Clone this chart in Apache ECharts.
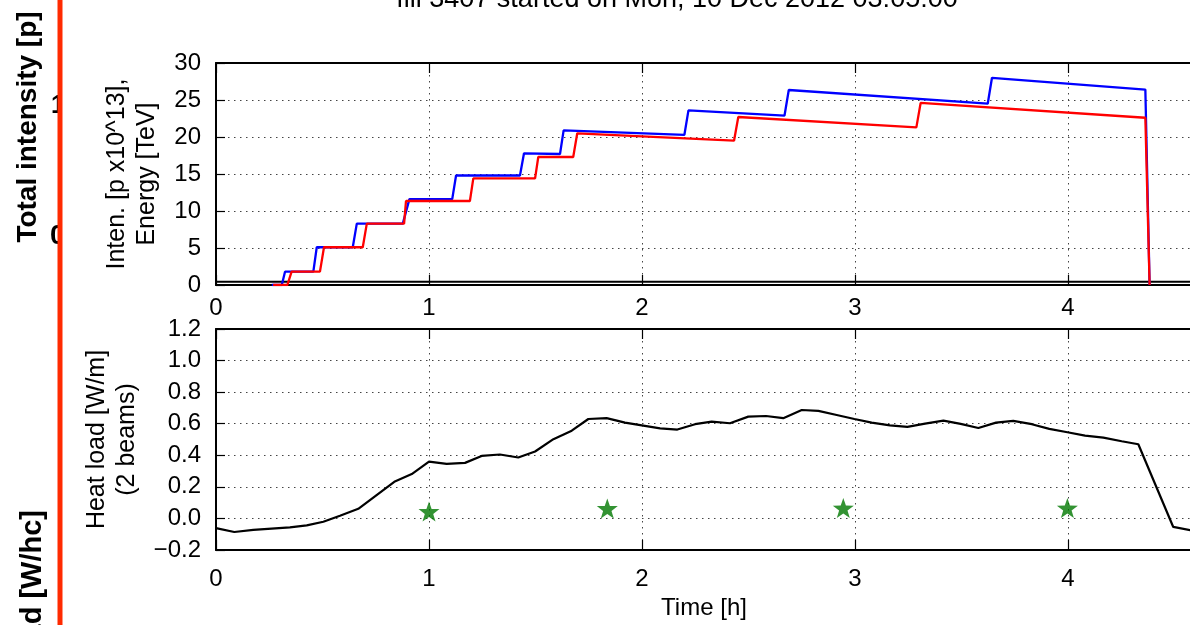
<!DOCTYPE html>
<html>
<head>
<meta charset="utf-8">
<script src="https://cdn.jsdelivr.net/npm/echarts@6/dist/echarts.min.js"></script>
<style>
html,body{margin:0;padding:0;background:#fff;}
#c{width:1190px;height:625px;}
</style>
</head>
<body>
<div id="c"></div>
<script>
// ---- data (hours, values) ----
const xTicks = [0, 1, 2, 3, 4];
const blueT = [0.262, 0.309, 0.324, 0.457, 0.473, 0.642, 0.661, 0.877, 0.908, 1.109, 1.127, 1.427, 1.446, 1.615, 1.632, 2.199, 2.218, 2.669, 2.689, 3.623, 3.643, 4.363, 4.383];
const blueV = [0, 0, 1.8, 1.8, 5.1, 5.1, 8.3, 8.3, 11.6, 11.6, 14.8, 14.8, 17.8, 17.7, 20.9, 20.3, 23.6, 22.9, 26.35, 24.5, 28.0, 26.4, 0];
const redT = [0.268, 0.335, 0.355, 0.488, 0.507, 0.689, 0.708, 0.883, 0.892, 1.192, 1.208, 1.498, 1.513, 1.677, 1.696, 2.432, 2.452, 3.288, 3.308, 4.363, 4.383];
const redV = [0, 0, 1.8, 1.8, 5.1, 5.1, 8.3, 8.3, 11.35, 11.35, 14.4, 14.4, 17.3, 17.3, 20.5, 19.5, 22.7, 21.3, 24.6, 22.6, 0];
const energyT = [0, 4.7];
const energyV = [0.45, 0.45];
const heatT = [0.0, 0.086, 0.175, 0.347, 0.426, 0.504, 0.582, 0.668, 0.754, 0.837, 0.919, 1.0, 1.083, 1.169, 1.247, 1.333, 1.419, 1.498, 1.584, 1.670, 1.748, 1.834, 1.920, 1.999, 2.085, 2.166, 2.249, 2.327, 2.413, 2.499, 2.582, 2.663, 2.750, 2.828, 2.914, 2.997, 3.078, 3.164, 3.246, 3.329, 3.415, 3.496, 3.579, 3.662, 3.743, 3.830, 3.912, 3.997, 4.080, 4.166, 4.252, 4.330, 4.494, 4.590];
const heatV = [-0.061, -0.086, -0.073, -0.057, -0.044, -0.021, 0.017, 0.061, 0.148, 0.232, 0.281, 0.360, 0.346, 0.352, 0.396, 0.405, 0.386, 0.424, 0.502, 0.556, 0.630, 0.635, 0.607, 0.590, 0.571, 0.563, 0.597, 0.613, 0.603, 0.645, 0.649, 0.635, 0.687, 0.681, 0.655, 0.630, 0.607, 0.590, 0.580, 0.601, 0.620, 0.599, 0.573, 0.607, 0.618, 0.597, 0.567, 0.546, 0.525, 0.512, 0.489, 0.470, -0.054, -0.078];
const starT = [1.0, 1.837, 2.945, 3.997];
const starV = [0.044, 0.063, 0.066, 0.066];

const titleText = 'fill 3407 started on Mon, 10 Dec 2012 03:05:00';
const topYName = 'Inten. [p x10^13],\nEnergy [TeV]';
const botYName = 'Heat load [W/m]\n(2 beams)';
const xName = 'Time [h]';

const zip = (a, b) => a.map((v, i) => [v, b[i]]);
const FONT = "'Liberation Sans', Arial, sans-serif";
const XMAX = 4.582;
const STAR = 'path://M0,-10 L2.35,-3.24 L9.51,-3.09 L3.8,1.24 L5.88,8.09 L0,4 L-5.88,8.09 L-3.8,1.24 L-9.51,-3.09 L-2.35,-3.24 Z';

const dotted = {show: true, lineStyle: {color: '#444', width: 1, type: [1.5, 4.5]}};
const axLine = {show: true, onZero: false, lineStyle: {color: '#000', width: 2}};

function xAx(grid, pos, labels, name) {
  return {
    type: 'value', gridIndex: grid, position: pos, min: 0, max: XMAX, interval: 1,
    axisLine: axLine,
    axisTick: {show: true, inside: true, length: 10, lineStyle: {color: '#000', width: 1.2}},
    splitLine: pos === 'bottom' ? dotted : {show: false},
    axisLabel: {show: labels, showMaxLabel: false, fontSize: 24, color: '#000', fontFamily: FONT, margin: grid === 0 ? 11 : 17,
      formatter: v => xTicks.indexOf(v) >= 0 ? String(v) : ''},
    name: name || '', nameLocation: 'middle', nameGap: 46,
    nameTextStyle: {fontSize: 24, color: '#000', fontFamily: FONT}
  };
}

const chart = echarts.init(document.getElementById('c'), null, {renderer: 'canvas'});
chart.setOption({
  animation: false,
  backgroundColor: '#fff',
  grid: [
    {left: 216, top: 63, width: 976, height: 222, outerBoundsMode: 'none', containLabel: false},
    {left: 216, top: 329, width: 976, height: 221, outerBoundsMode: 'none', containLabel: false}
  ],
  xAxis: [
    xAx(0, 'bottom', true),
    xAx(0, 'top', false),
    xAx(1, 'bottom', true, xName),
    xAx(1, 'top', false)
  ],
  yAxis: [
    {type: 'value', gridIndex: 0, min: 0, max: 30, interval: 5,
      axisLine: axLine,
      axisTick: {show: true, inside: true, length: 9, lineStyle: {color: '#000', width: 1.2}},
      splitLine: dotted,
      axisLabel: {fontSize: 24, color: '#000', fontFamily: FONT, margin: 15},
      name: topYName, nameLocation: 'middle', nameGap: 54,
      nameTextStyle: {fontSize: 25, lineHeight: 30, color: '#000', fontFamily: FONT}},
    {type: 'value', gridIndex: 1, min: -0.2, max: 1.2, interval: 0.2,
      axisLine: axLine,
      axisTick: {show: true, inside: true, length: 9, lineStyle: {color: '#000', width: 1.2}},
      splitLine: dotted,
      axisLabel: {fontSize: 24, color: '#000', fontFamily: FONT, margin: 15,
        formatter: v => { const r = Math.round(v * 10) / 10; return (r < 0 ? '\u2212' : '') + Math.abs(r).toFixed(1); }},
      name: botYName, nameLocation: 'middle', nameGap: 74,
      nameTextStyle: {fontSize: 25, lineHeight: 30, color: '#000', fontFamily: FONT}}
  ],
  series: [
    {type: 'line', xAxisIndex: 0, yAxisIndex: 0, data: zip(energyT, energyV), showSymbol: false,
      lineStyle: {color: '#000', width: 2}, z: 3},
    {type: 'line', xAxisIndex: 0, yAxisIndex: 0, data: zip(blueT, blueV), showSymbol: false,
      lineStyle: {color: '#0000ff', width: 2.3}, z: 4},
    {type: 'line', xAxisIndex: 0, yAxisIndex: 0, data: zip(redT, redV), showSymbol: false,
      lineStyle: {color: '#ff0000', width: 2.3}, z: 5},
    {type: 'line', xAxisIndex: 2, yAxisIndex: 1, data: zip(heatT, heatV), showSymbol: false,
      lineStyle: {color: '#000', width: 2.2}, z: 4},
    {type: 'scatter', xAxisIndex: 2, yAxisIndex: 1, data: zip(starT, starV), symbol: STAR,
      symbolSize: [21, 20], itemStyle: {color: '#007800'}, z: 5}
  ],
  graphic: [
    {type: 'text', x: 677, y: 0, z: 10,
      style: {text: titleText, font: "27px " + FONT, fill: '#000', align: 'center', verticalAlign: 'middle'}},
    {type: 'text', x: 28, y: 127, rotation: Math.PI / 2, z: 10,
      style: {text: 'Total intensity [p]', font: "bold 28px " + FONT, fill: '#000', align: 'center', verticalAlign: 'middle'}},
    {type: 'text', x: 33, y: 510, rotation: Math.PI / 2, z: 10,
      style: {text: 'Heat load [W/hc]', font: "bold 29px " + FONT, fill: '#000', align: 'right', verticalAlign: 'middle'}},
    {type: 'text', x: 51, y: 106, z: 10,
      style: {text: '1', font: "bold 25px " + FONT, fill: '#000', align: 'left', verticalAlign: 'middle'}},
    {type: 'text', x: 50, y: 236, z: 10,
      style: {text: '0', font: "bold 28px " + FONT, fill: '#000', align: 'left', verticalAlign: 'middle'}},
    {type: 'rect', shape: {x: 58, y: 60, width: 40, height: 220}, z: 11, style: {fill: '#fff'}},
    {type: 'rect', shape: {x: 57.5, y: 0, width: 5, height: 625}, z: 12, style: {fill: '#ff2a00'}}
  ]
});
</script>
</body>
</html>
